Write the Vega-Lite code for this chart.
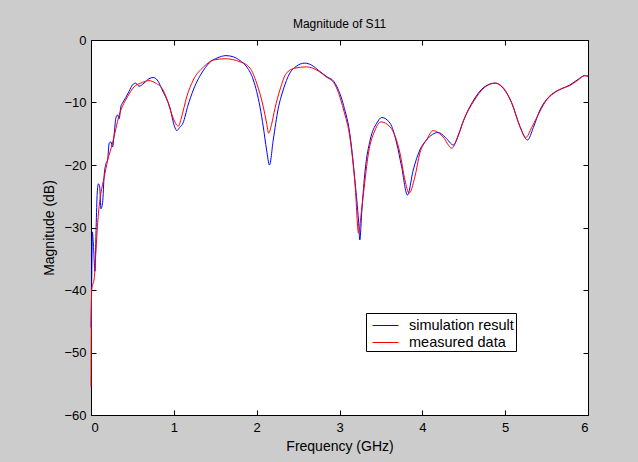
{
  "$schema": "https://vega.github.io/schema/vega-lite/v6.json",
  "width": 497,
  "height": 375,
  "autosize": {"type": "none"},
  "padding": {"left": 91, "top": 40, "right": 50, "bottom": 47},
  "background": "#cccccc",
  "title": {"text": "Magnitude of S11", "fontSize": 12, "fontWeight": "normal", "font": "Liberation Sans", "color": "#000000", "offset": 3, "anchor": "middle"},
  "config": {
    "view": {"stroke": "#000000", "strokeWidth": 1, "fill": "#ffffff"},
    "axis": {"grid": false, "domainColor": "#000000", "tickColor": "#000000", "labelColor": "#000000", "titleColor": "#000000", "labelFont": "Liberation Sans", "titleFont": "Liberation Sans", "labelFontSize": 13, "titleFontSize": 14, "titleFontWeight": "normal", "tickSize": -5}
  },
  "data": {"values": [
    {"f": 0.000, "db": -46, "s": "simulation result"},
    {"f": 0.010, "db": -37, "s": "simulation result"},
    {"f": 0.016, "db": -30.7, "s": "simulation result"},
    {"f": 0.030, "db": -33, "s": "simulation result"},
    {"f": 0.048, "db": -37, "s": "simulation result"},
    {"f": 0.062, "db": -30, "s": "simulation result"},
    {"f": 0.075, "db": -24.5, "s": "simulation result"},
    {"f": 0.090, "db": -23, "s": "simulation result"},
    {"f": 0.105, "db": -23.5, "s": "simulation result"},
    {"f": 0.120, "db": -27, "s": "simulation result"},
    {"f": 0.140, "db": -26, "s": "simulation result"},
    {"f": 0.160, "db": -21.5, "s": "simulation result"},
    {"f": 0.180, "db": -19.8, "s": "simulation result"},
    {"f": 0.200, "db": -19.2, "s": "simulation result"},
    {"f": 0.220, "db": -16.5, "s": "simulation result"},
    {"f": 0.240, "db": -16.3, "s": "simulation result"},
    {"f": 0.260, "db": -17.1, "s": "simulation result"},
    {"f": 0.280, "db": -15, "s": "simulation result"},
    {"f": 0.300, "db": -12.5, "s": "simulation result"},
    {"f": 0.320, "db": -12, "s": "simulation result"},
    {"f": 0.340, "db": -12.6, "s": "simulation result"},
    {"f": 0.360, "db": -10.7, "s": "simulation result"},
    {"f": 0.380, "db": -10.1, "s": "simulation result"},
    {"f": 0.420, "db": -9.2, "s": "simulation result"},
    {"f": 0.460, "db": -8.2, "s": "simulation result"},
    {"f": 0.500, "db": -7.2, "s": "simulation result"},
    {"f": 0.540, "db": -6.9, "s": "simulation result"},
    {"f": 0.580, "db": -7.4, "s": "simulation result"},
    {"f": 0.640, "db": -6.9, "s": "simulation result"},
    {"f": 0.700, "db": -6.2, "s": "simulation result"},
    {"f": 0.750, "db": -6.0, "s": "simulation result"},
    {"f": 0.800, "db": -6.4, "s": "simulation result"},
    {"f": 0.870, "db": -8.3, "s": "simulation result"},
    {"f": 0.950, "db": -10.7, "s": "simulation result"},
    {"f": 1.010, "db": -13.9, "s": "simulation result"},
    {"f": 1.035, "db": -14.5, "s": "simulation result"},
    {"f": 1.070, "db": -14.0, "s": "simulation result"},
    {"f": 1.110, "db": -13.3, "s": "simulation result"},
    {"f": 1.170, "db": -10.5, "s": "simulation result"},
    {"f": 1.235, "db": -8.0, "s": "simulation result"},
    {"f": 1.360, "db": -4.8, "s": "simulation result"},
    {"f": 1.450, "db": -3.4, "s": "simulation result"},
    {"f": 1.520, "db": -2.9, "s": "simulation result"},
    {"f": 1.630, "db": -2.5, "s": "simulation result"},
    {"f": 1.720, "db": -2.7, "s": "simulation result"},
    {"f": 1.800, "db": -3.3, "s": "simulation result"},
    {"f": 1.880, "db": -4.3, "s": "simulation result"},
    {"f": 1.960, "db": -6.4, "s": "simulation result"},
    {"f": 2.040, "db": -10.7, "s": "simulation result"},
    {"f": 2.080, "db": -13.9, "s": "simulation result"},
    {"f": 2.120, "db": -17.6, "s": "simulation result"},
    {"f": 2.155, "db": -20.0, "s": "simulation result"},
    {"f": 2.200, "db": -16.0, "s": "simulation result"},
    {"f": 2.260, "db": -11.0, "s": "simulation result"},
    {"f": 2.320, "db": -8.0, "s": "simulation result"},
    {"f": 2.400, "db": -5.3, "s": "simulation result"},
    {"f": 2.480, "db": -4.2, "s": "simulation result"},
    {"f": 2.580, "db": -3.7, "s": "simulation result"},
    {"f": 2.660, "db": -4.0, "s": "simulation result"},
    {"f": 2.750, "db": -4.9, "s": "simulation result"},
    {"f": 2.850, "db": -5.9, "s": "simulation result"},
    {"f": 2.930, "db": -6.6, "s": "simulation result"},
    {"f": 2.970, "db": -7.5, "s": "simulation result"},
    {"f": 3.050, "db": -10.5, "s": "simulation result"},
    {"f": 3.130, "db": -15.5, "s": "simulation result"},
    {"f": 3.190, "db": -23.0, "s": "simulation result"},
    {"f": 3.230, "db": -29.0, "s": "simulation result"},
    {"f": 3.245, "db": -32.0, "s": "simulation result"},
    {"f": 3.270, "db": -27.2, "s": "simulation result"},
    {"f": 3.310, "db": -20.8, "s": "simulation result"},
    {"f": 3.370, "db": -16.0, "s": "simulation result"},
    {"f": 3.450, "db": -13.3, "s": "simulation result"},
    {"f": 3.510, "db": -12.4, "s": "simulation result"},
    {"f": 3.610, "db": -13.3, "s": "simulation result"},
    {"f": 3.690, "db": -16.5, "s": "simulation result"},
    {"f": 3.750, "db": -20.3, "s": "simulation result"},
    {"f": 3.820, "db": -24.8, "s": "simulation result"},
    {"f": 3.890, "db": -20.8, "s": "simulation result"},
    {"f": 3.970, "db": -17.6, "s": "simulation result"},
    {"f": 4.050, "db": -16.0, "s": "simulation result"},
    {"f": 4.190, "db": -14.8, "s": "simulation result"},
    {"f": 4.280, "db": -15.6, "s": "simulation result"},
    {"f": 4.375, "db": -16.8, "s": "simulation result"},
    {"f": 4.440, "db": -15.0, "s": "simulation result"},
    {"f": 4.500, "db": -12.8, "s": "simulation result"},
    {"f": 4.620, "db": -9.6, "s": "simulation result"},
    {"f": 4.750, "db": -7.5, "s": "simulation result"},
    {"f": 4.880, "db": -6.9, "s": "simulation result"},
    {"f": 4.960, "db": -7.5, "s": "simulation result"},
    {"f": 5.080, "db": -10.1, "s": "simulation result"},
    {"f": 5.180, "db": -13.9, "s": "simulation result"},
    {"f": 5.270, "db": -16.0, "s": "simulation result"},
    {"f": 5.340, "db": -14.0, "s": "simulation result"},
    {"f": 5.420, "db": -11.2, "s": "simulation result"},
    {"f": 5.500, "db": -9.5, "s": "simulation result"},
    {"f": 5.580, "db": -8.5, "s": "simulation result"},
    {"f": 5.680, "db": -7.8, "s": "simulation result"},
    {"f": 5.780, "db": -7.2, "s": "simulation result"},
    {"f": 5.880, "db": -6.3, "s": "simulation result"},
    {"f": 5.960, "db": -5.7, "s": "simulation result"},
    {"f": 6.000, "db": -5.8, "s": "simulation result"},
    {"f": 0.000, "db": -55.5, "s": "measured data"},
    {"f": 0.008, "db": -40, "s": "measured data"},
    {"f": 0.040, "db": -38, "s": "measured data"},
    {"f": 0.060, "db": -33.6, "s": "measured data"},
    {"f": 0.090, "db": -27.7, "s": "measured data"},
    {"f": 0.120, "db": -24.5, "s": "measured data"},
    {"f": 0.160, "db": -21.9, "s": "measured data"},
    {"f": 0.200, "db": -19.3, "s": "measured data"},
    {"f": 0.260, "db": -16.5, "s": "measured data"},
    {"f": 0.300, "db": -14.2, "s": "measured data"},
    {"f": 0.340, "db": -12.0, "s": "measured data"},
    {"f": 0.380, "db": -10.6, "s": "measured data"},
    {"f": 0.440, "db": -9.1, "s": "measured data"},
    {"f": 0.520, "db": -7.5, "s": "measured data"},
    {"f": 0.600, "db": -6.9, "s": "measured data"},
    {"f": 0.700, "db": -6.5, "s": "measured data"},
    {"f": 0.780, "db": -6.9, "s": "measured data"},
    {"f": 0.870, "db": -8.0, "s": "measured data"},
    {"f": 0.930, "db": -10.0, "s": "measured data"},
    {"f": 0.970, "db": -11.7, "s": "measured data"},
    {"f": 1.020, "db": -13.3, "s": "measured data"},
    {"f": 1.055, "db": -13.8, "s": "measured data"},
    {"f": 1.090, "db": -12.5, "s": "measured data"},
    {"f": 1.155, "db": -9.1, "s": "measured data"},
    {"f": 1.235, "db": -6.4, "s": "measured data"},
    {"f": 1.360, "db": -4.3, "s": "measured data"},
    {"f": 1.480, "db": -3.2, "s": "measured data"},
    {"f": 1.620, "db": -3.0, "s": "measured data"},
    {"f": 1.800, "db": -3.5, "s": "measured data"},
    {"f": 1.920, "db": -4.5, "s": "measured data"},
    {"f": 2.000, "db": -6.9, "s": "measured data"},
    {"f": 2.080, "db": -10.7, "s": "measured data"},
    {"f": 2.120, "db": -13.3, "s": "measured data"},
    {"f": 2.145, "db": -14.9, "s": "measured data"},
    {"f": 2.180, "db": -13.5, "s": "measured data"},
    {"f": 2.220, "db": -11.0, "s": "measured data"},
    {"f": 2.280, "db": -8.0, "s": "measured data"},
    {"f": 2.360, "db": -5.3, "s": "measured data"},
    {"f": 2.460, "db": -4.5, "s": "measured data"},
    {"f": 2.600, "db": -4.3, "s": "measured data"},
    {"f": 2.750, "db": -5.0, "s": "measured data"},
    {"f": 2.850, "db": -6.0, "s": "measured data"},
    {"f": 2.930, "db": -6.8, "s": "measured data"},
    {"f": 3.050, "db": -11.2, "s": "measured data"},
    {"f": 3.130, "db": -16.0, "s": "measured data"},
    {"f": 3.190, "db": -23.5, "s": "measured data"},
    {"f": 3.230, "db": -30.9, "s": "measured data"},
    {"f": 3.260, "db": -28.0, "s": "measured data"},
    {"f": 3.290, "db": -24.5, "s": "measured data"},
    {"f": 3.350, "db": -18.1, "s": "measured data"},
    {"f": 3.430, "db": -14.4, "s": "measured data"},
    {"f": 3.500, "db": -13.1, "s": "measured data"},
    {"f": 3.610, "db": -13.9, "s": "measured data"},
    {"f": 3.730, "db": -18.1, "s": "measured data"},
    {"f": 3.790, "db": -22.4, "s": "measured data"},
    {"f": 3.840, "db": -24.5, "s": "measured data"},
    {"f": 3.910, "db": -21.9, "s": "measured data"},
    {"f": 3.970, "db": -18.1, "s": "measured data"},
    {"f": 4.050, "db": -16.0, "s": "measured data"},
    {"f": 4.130, "db": -14.5, "s": "measured data"},
    {"f": 4.250, "db": -15.5, "s": "measured data"},
    {"f": 4.355, "db": -17.3, "s": "measured data"},
    {"f": 4.420, "db": -15.8, "s": "measured data"},
    {"f": 4.500, "db": -12.8, "s": "measured data"},
    {"f": 4.620, "db": -9.8, "s": "measured data"},
    {"f": 4.750, "db": -7.6, "s": "measured data"},
    {"f": 4.880, "db": -6.9, "s": "measured data"},
    {"f": 4.960, "db": -7.4, "s": "measured data"},
    {"f": 5.080, "db": -10.1, "s": "measured data"},
    {"f": 5.180, "db": -13.9, "s": "measured data"},
    {"f": 5.250, "db": -15.6, "s": "measured data"},
    {"f": 5.320, "db": -14.0, "s": "measured data"},
    {"f": 5.420, "db": -11.4, "s": "measured data"},
    {"f": 5.500, "db": -9.6, "s": "measured data"},
    {"f": 5.580, "db": -8.6, "s": "measured data"},
    {"f": 5.680, "db": -7.8, "s": "measured data"},
    {"f": 5.780, "db": -7.3, "s": "measured data"},
    {"f": 5.880, "db": -6.4, "s": "measured data"},
    {"f": 5.960, "db": -5.7, "s": "measured data"},
    {"f": 6.000, "db": -5.8, "s": "measured data"}
  ]},
  "layer": [
    {
      "mark": {"type": "line", "strokeWidth": 1, "interpolate": "monotone"},
      "encoding": {
        "x": {"field": "f", "type": "quantitative", "scale": {"domain": [0, 6], "nice": false}, "axis": {"title": "Frequency (GHz)", "values": [0, 1, 2, 3, 4, 5, 6], "labelPadding": 11, "titlePadding": 5}},
        "y": {"field": "db", "type": "quantitative", "scale": {"domain": [-60, 0], "nice": false}, "axis": {"title": "Magnitude (dB)", "values": [-60, -50, -40, -30, -20, -10, 0], "labelPadding": 10, "titlePadding": 7}},
        "color": {"field": "s", "type": "nominal", "sort": null, "scale": {"domain": ["simulation result", "measured data"], "range": ["#0000ff", "#ff0000"]},
          "legend": {"title": null, "orient": "none", "legendX": 275, "legendY": 273, "fillColor": "#ffffff", "strokeColor": "#000000", "padding": 2, "symbolType": "M-0.6,0H2", "symbolSize": 400, "symbolStrokeWidth": 1, "labelFont": "Liberation Sans", "labelFontSize": 14.5, "labelColor": "#000000", "labelOffset": 20, "rowPadding": -1, "labelExpr": "datum.label + '\u2003\u2003'"}}
      }
    },
    {
      "mark": {"type": "line", "opacity": 0},
      "encoding": {
        "x": {"field": "f", "type": "quantitative", "axis": {"orient": "top", "labels": false, "title": null, "values": [0, 1, 2, 3, 4, 5, 6]}},
        "y": {"field": "db", "type": "quantitative", "axis": {"orient": "right", "labels": false, "title": null, "values": [-60, -50, -40, -30, -20, -10, 0]}}
      }
    }
  ],
  "resolve": {"axis": {"x": "independent", "y": "independent"}}
}
